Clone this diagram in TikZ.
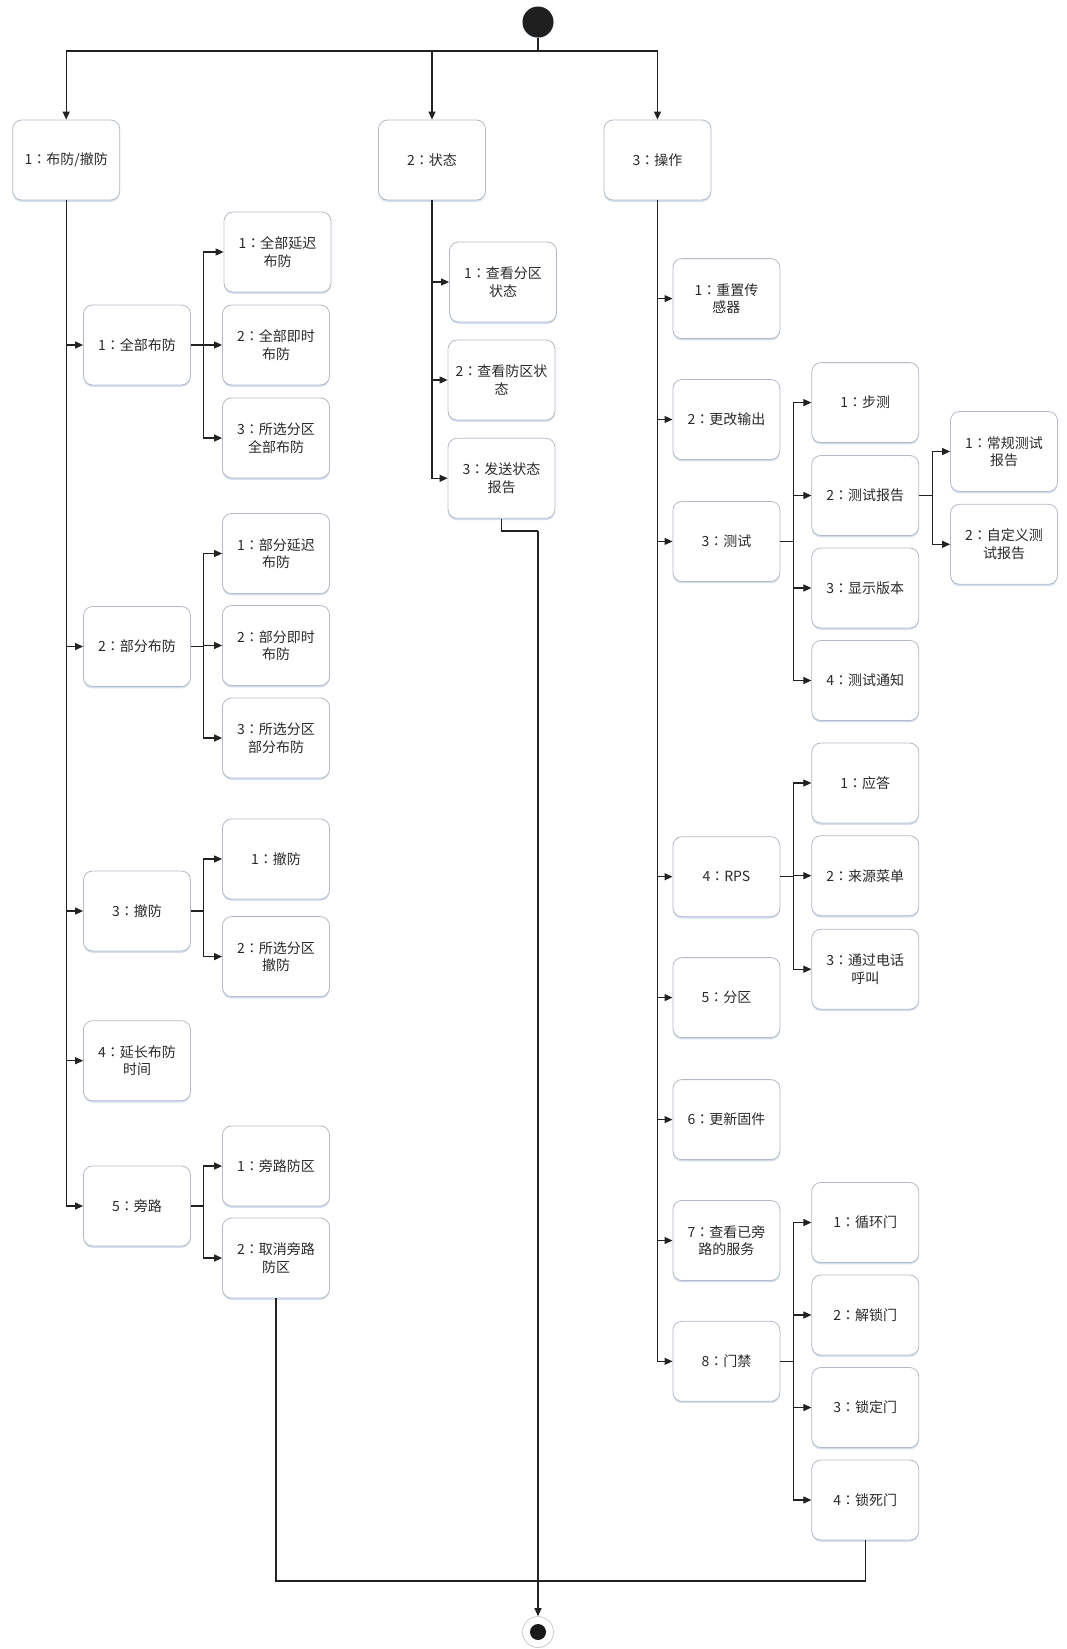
\documentclass[tikz,border=0pt]{standalone}
\usepackage{fontspec}
\setmainfont{Noto Sans CJK SC}
\newfontfamily\tcfont{Noto Sans CJK TC}
\newcommand\mycolon{{\tcfont ：}}
\usetikzlibrary{arrows.meta,shadows}
\definecolor{linec}{HTML}{222222}
\definecolor{boxline}{HTML}{B3BBC7}
\definecolor{shadowc}{HTML}{C9D6EA}
\definecolor{txtc}{HTML}{2A2A2A}
\tikzset{
  statebox/.style={draw=boxline, line width=0.8pt, fill=white, rounded corners=9pt,
    minimum width=107pt, minimum height=80pt, inner sep=2pt, align=center,
    text=txtc, font=\fontsize{14pt}{17.5pt}\selectfont,
    drop shadow={shadow xshift=0pt, shadow yshift=-1.8pt, fill=shadowc, opacity=0.8}},
  conn/.style={draw=linec, line width=1.1pt},
  arr/.style={conn, -{Triangle[length=8pt,width=7pt]}},
}
\begin{document}
\begin{tikzpicture}[x=1pt,y=-1pt]
\useasboundingbox (0,0) rectangle (1067,1649);
% start / end
\node (start) [circle, fill=black!88, minimum size=31pt, inner sep=0pt,
  drop shadow={shadow xshift=0pt, shadow yshift=-1pt, fill=shadowc, opacity=0.8}] at (538,22) {};
\node (end) [circle, draw=black!25, line width=0.6pt, fill=white, minimum size=31pt, inner sep=0pt] at (538,1632) {};
\node (endin) [circle, fill=black!90, minimum size=16pt, inner sep=0pt] at (538,1632) {};
\coordinate (top) at (538,51);
\coordinate (mid) at (538,531);
\coordinate (bot) at (538,1581);

% level 1
\node (B1) [statebox] at (66.2,160) {1\mycolon 布防/撤防};
\node (B2) [statebox] at (432,160) {2\mycolon 状态};
\node (B3) [statebox] at (657.5,160) {3\mycolon 操作};

% column 1
\node (L1) [statebox] at (137,345) {1\mycolon 全部布防};
\node (L2) [statebox] at (137,646.5) {2\mycolon 部分布防};
\node (L3) [statebox] at (137,911) {3\mycolon 撤防};
\node (L4) [statebox] at (137,1060.7) {4\mycolon 延长布防\\时间};
\node (L5) [statebox] at (137,1206) {5\mycolon 旁路};

\node (L1a) [statebox] at (277.5,252) {1\mycolon 全部延迟\\布防};
\node (L1b) [statebox] at (276,345) {2\mycolon 全部即时\\布防};
\node (L1c) [statebox] at (276,438) {3\mycolon 所选分区\\全部布防};
\node (L2a) [statebox] at (276,553.5) {1\mycolon 部分延迟\\布防};
\node (L2b) [statebox] at (276,645.5) {2\mycolon 部分即时\\布防};
\node (L2c) [statebox] at (276,738) {3\mycolon 所选分区\\部分布防};
\node (L3a) [statebox] at (276,859) {1\mycolon 撤防};
\node (L3b) [statebox] at (276,956.6) {2\mycolon 所选分区\\撤防};
\node (L5a) [statebox] at (276,1166) {1\mycolon 旁路防区};
\node (L5b) [statebox] at (276,1258) {2\mycolon 取消旁路\\防区};

% column 2
\node (S1) [statebox] at (503,282) {1\mycolon 查看分区\\状态};
\node (S2) [statebox] at (501.5,380) {2\mycolon 查看防区状\\态};
\node (S3) [statebox] at (501.5,478.3) {3\mycolon 发送状态\\报告};

% column 3
\node (O1) [statebox] at (726.4,298.6) {1\mycolon 重置传\\感器};
\node (O2) [statebox] at (726.4,419.5) {2\mycolon 更改输出};
\node (O3) [statebox] at (726.4,541.4) {3\mycolon 测试};
\node (O4) [statebox] at (726.4,876.7) {4\mycolon RPS};
\node (O5) [statebox] at (726.4,997.6) {5\mycolon 分区};
\node (O6) [statebox] at (726.4,1119.6) {6\mycolon 更新固件};
\node (O7) [statebox] at (726.4,1240.5) {7\mycolon 查看已旁\\路的服务};
\node (O8) [statebox] at (726.4,1361.3) {8\mycolon 门禁};

\node (T1) [statebox] at (865.3,402.6) {1\mycolon 步测};
\node (T2) [statebox] at (865.3,495.5) {2\mycolon 测试报告};
\node (T3) [statebox] at (865.3,588) {3\mycolon 显示版本};
\node (T4) [statebox] at (865.3,680.5) {4\mycolon 测试通知};
\node (R1) [statebox] at (1004,451.5) {1\mycolon 常规测试\\报告};
\node (R2) [statebox] at (1004,544.3) {2\mycolon 自定义测\\试报告};

\node (P1) [statebox] at (865.3,783) {1\mycolon 应答};
\node (P2) [statebox] at (865.3,875.7) {2\mycolon 来源菜单};
\node (P3) [statebox] at (865.3,969.2) {3\mycolon 通过电话\\呼叫};

\node (D1) [statebox] at (865.3,1222.5) {1\mycolon 循环门};
\node (D2) [statebox] at (865.3,1315) {2\mycolon 解锁门};
\node (D3) [statebox] at (865.3,1407.5) {3\mycolon 锁定门};
\node (D4) [statebox] at (865.3,1500) {4\mycolon 锁死门};

% top connectors
\draw[conn] (start.south) -- (top);
\draw[arr] (top) -| (B1.north);
\draw[arr] (top) -| (B2.north);
\draw[arr] (top) -| (B3.north);

% column 1 trunk
\foreach \n in {L1,L2,L3,L4,L5} { \draw[arr] (B1.south) |- (\n.west); }
\foreach \n in {L1a,L1b,L1c} { \draw[arr] (L1.east) -- ++(13,0) |- (\n.west); }
\foreach \n in {L2a,L2b,L2c} { \draw[arr] (L2.east) -- ++(13,0) |- (\n.west); }
\foreach \n in {L3a,L3b} { \draw[arr] (L3.east) -- ++(13,0) |- (\n.west); }
\foreach \n in {L5a,L5b} { \draw[arr] (L5.east) -- ++(13,0) |- (\n.west); }

% column 2
\foreach \n in {S1,S2,S3} { \draw[arr] (B2.south) |- (\n.west); }

% column 3
\foreach \n in {O1,O2,O3,O4,O5,O6,O7,O8} { \draw[arr] (B3.south) |- (\n.west); }
\foreach \n in {T1,T2,T3,T4} { \draw[arr] (O3.east) -- ++(13,0) |- (\n.west); }
\foreach \n in {R1,R2} { \draw[arr] (T2.east) -- ++(13,0) |- (\n.west); }
\foreach \n in {P1,P2,P3} { \draw[arr] (O4.east) -- ++(13,0) |- (\n.west); }
\foreach \n in {D1,D2,D3,D4} { \draw[arr] (O8.east) -- ++(13,0) |- (\n.west); }

% to the end
\draw[conn] (S3.south) |- (mid);
\draw[arr] (mid) -- (end.north);
\draw[conn] (L5b.south) |- (bot) -| (D4.south);
\end{tikzpicture}
\end{document}
